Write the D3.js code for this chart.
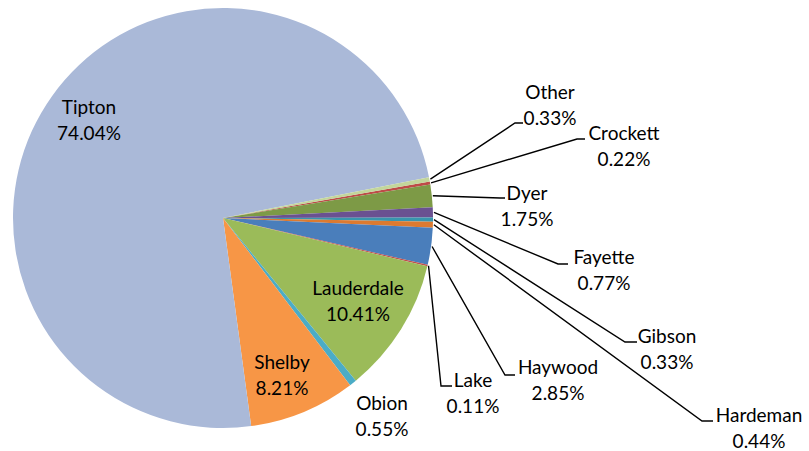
<!DOCTYPE html>
<meta charset="utf-8">
<style>
body { margin: 0; background: #fff; }
svg { font: 19px Lato, "Open Sans", sans-serif; }
.leader { fill: none; stroke: #000; stroke-width: 1.4; }
</style>
<body>
<script src="https://cdn.jsdelivr.net/npm/d3@7"></script>
<script>

var names = ["Crockett", "Dyer", "Fayette", "Gibson", "Hardeman", "Haywood",
             "Lake", "Lauderdale", "Obion", "Shelby", "Tipton", "Other"];
var values = [0.22, 1.75, 0.77, 0.33, 0.44, 2.85, 0.11, 10.41, 0.55, 8.21, 74.04, 0.33];
var colors = ["#be4b48", "#7d9a46", "#6a5191", "#3896ad", "#dc7a30", "#4a7ebb",
              "#c0504d", "#9bbb59", "#4bacc6", "#f79646", "#aab9d8", "#c3d69b"];

// label layout: text centre x, first baseline y, and (for outside labels) the leader elbow
var labelPos = {
  "Tipton":     {x: 89,  y: 114},
  "Lauderdale": {x: 358, y: 295},
  "Shelby":     {x: 282, y: 369},
  "Obion":      {x: 382, y: 410},
  "Lake":       {x: 473, y: 387, ex: 441, ey: 386, sx: 452},
  "Haywood":    {x: 558, y: 374, ex: 505, ey: 375, sx: 515},
  "Hardeman":   {x: 759, y: 422, ex: 702, ey: 421, sx: 713},
  "Gibson":     {x: 667, y: 343, ex: 625, ey: 342, sx: 637},
  "Fayette":    {x: 604, y: 264, ex: 558, ey: 264, sx: 568},
  "Dyer":       {x: 527, y: 200, ex: 500, ey: 198, sx: 505},
  "Crockett":   {x: 624, y: 140, ex: 577, ey: 139, sx: 585},
  "Other":      {x: 550, y: 99,  ex: 515, ey: 123, sx: 523}
};

var width = 809,
    height = 451,
    cx = 223,
    cy = 218,
    radius = 210;

var svg = d3.select("body").append("svg")
    .attr("width", width)
    .attr("height", height);

var data = names.map(function (n, i) { return {name: n, value: values[i], color: colors[i]}; });

var pie = d3.pie()
    .sort(null)
    .value(function (d) { return d.value; })
    .startAngle(80 * Math.PI / 180)
    .endAngle(80 * Math.PI / 180 + 2 * Math.PI);

var arc = d3.arc().innerRadius(0).outerRadius(radius);

var arcs = pie(data);

var g = svg.append("g").attr("transform", "translate(" + cx + "," + cy + ")");

g.selectAll("path.slice")
    .data(arcs)
  .enter().append("path")
    .attr("class", "slice")
    .attr("d", arc)
    .attr("fill", function (d) { return d.data.color; });

// leader lines
var outside = arcs.filter(function (d) { return labelPos[d.data.name].ex !== undefined; });

svg.selectAll("path.leader")
    .data(outside)
  .enter().append("path")
    .attr("class", "leader")
    .attr("d", function (d) {
      var a = (d.startAngle + d.endAngle) / 2,
          p = labelPos[d.data.name],
          x0 = cx + (radius + 1) * Math.sin(a),
          y0 = cy - (radius + 1) * Math.cos(a);
      return d3.line()([[x0, y0], [p.ex, p.ey], [p.sx, p.ey]]);
    });

// labels
var lab = svg.selectAll("text.lab")
    .data(arcs)
  .enter().append("text")
    .attr("class", "lab")
    .attr("text-anchor", "middle")
    .attr("fill", "#000");

lab.append("tspan")
    .attr("x", function (d) { return labelPos[d.data.name].x; })
    .attr("y", function (d) { return labelPos[d.data.name].y; })
    .text(function (d) { return d.data.name; });

lab.append("tspan")
    .attr("x", function (d) { return labelPos[d.data.name].x; })
    .attr("y", function (d) { return labelPos[d.data.name].y + 25.5; })
    .text(function (d) { return d.data.value.toFixed(2) + "%"; });

</script>
